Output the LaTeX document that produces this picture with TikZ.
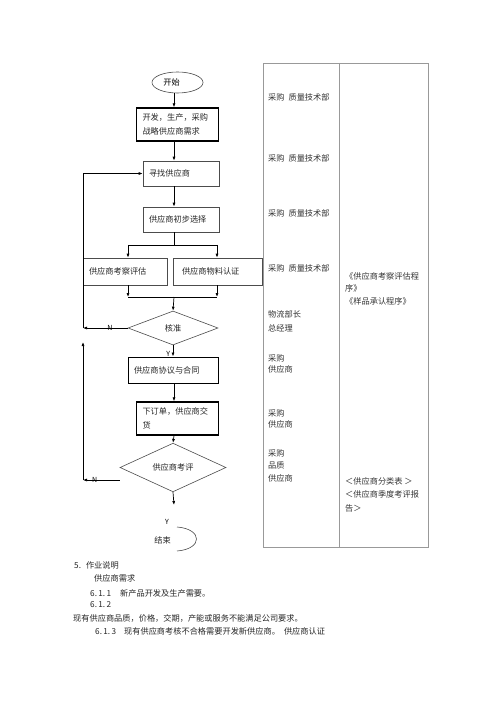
\documentclass[tikz,border=0pt]{standalone}
\usepackage{fontspec}
\setmainfont{Noto Sans CJK SC}
\usetikzlibrary{positioning, arrows.meta, shapes.geometric}
\newcommand{\flowfont}{\fontsize{8.2pt}{14.5pt}\selectfont}
\tikzset{
    stepbox/.style={draw=black!70, line width=0.6pt, rectangle, inner xsep=6pt, inner ysep=2pt, align=left, font=\flowfont, text=black!85},
    boldbox/.style={stepbox, draw=black, line width=1.3pt},
    choice/.style={diamond, draw=black!70, line width=0.6pt, inner sep=0pt, font=\flowfont, text=black!85},
    flow/.style={line width=0.7pt, black},
    yn/.style={font=\fontsize{7pt}{8pt}\selectfont, inner sep=1pt},
    cell/.style={anchor=north west, align=left, inner sep=0pt, font=\flowfont, text=black!80},
    note/.style={anchor=west, inner sep=0pt, font=\flowfont, text=black!85},
    grid/.style={draw=black!40, line width=0.6pt}
}

\begin{document}
\begin{tikzpicture}[x=1pt, y=-1pt, >={Latex[length=4pt,width=3pt]}]
    \useasboundingbox (0,0) rectangle (500,708);
    \coordinate (axis) at (174,0);
    \node[ellipse, draw=black!70, line width=0.6pt, minimum width=51pt, minimum height=21pt, inner sep=0pt, font=\flowfont] (start) at (177.5,82.5) {开始\hspace*{12pt}};
    \node[boldbox, text width=70pt, minimum height=33pt] (need) at (177.5,124.5) {开发，生产，采购\\战略供应商需求};
    \node[stepbox, text width=64pt, minimum height=25pt] (find) at (181,173.5) {寻找供应商};
    \node[stepbox, text width=64pt, minimum height=25pt] (select) at (181,219.5) {供应商初步选择};
    \node[stepbox, text width=72pt, minimum height=27pt] (assess) at (125,271.5) {供应商考察评估};
    \node[stepbox, text width=77pt, minimum height=27pt, inner xsep=6pt] (certify) at (217.5,271.5) {\hspace*{3pt}供应商物料认证};
    \node[choice, minimum width=90pt, minimum height=34pt] (approve) at (173,328) {核准};
    \node[boldbox, line width=1pt, text width=78pt, minimum height=26pt] (deal) at (173,370) {供应商协议与合同};
    \node[boldbox, text width=70pt, minimum height=33pt] (deliver) at (177.5,418.5) {下订单，供应商交\\货};
    \node[choice, minimum width=106pt, minimum height=39pt] (review) at (173,467.5) {供应商考评};
    \node[yn] (yend) at (167,522) {Y};
    \node[inner sep=0pt, font=\flowfont, text=black!85] (finish) at (162.5,540) {结束};
    \coordinate (split) at (174,245);
    \coordinate (sleft) at (128,245);
    \coordinate (sright) at (217,245);
    \coordinate (mleft) at (128,297);
    \coordinate (mright) at (217,297);
    \coordinate (merge) at (174,297);
    \coordinate (loopone) at (83,328);
    \coordinate (looptwo) at (83,480);
    \coordinate (looptop) at (83,342);
    \coordinate (endtip) at (174,505);

    \draw[flow,->] (start.south -| axis) -- (need.north -| axis);
    \draw[flow,->] (need.south -| axis) -- (find.north -| axis);
    \draw[flow,->] (find.south -| axis) -- (select.north -| axis);
    \draw[flow] (select.south -| axis) -- (split);
    \draw[flow] (sleft) -- (sright);
    \draw[flow,->] (sleft) -- (assess.north -| sleft);
    \draw[flow,->] (sright) -- (certify.north -| sright);
    \draw[flow,->] (assess.south -| mleft) -- (mleft);
    \draw[flow,->] (certify.south -| mright) -- (mright);
    \draw[flow] (mleft) -- (mright);
    \draw[flow,->] (merge) -- (approve.north);
    \draw[flow,->] (approve.west) -- node[yn, pos=0.4]{N} (loopone);
    \draw[flow,->] (loopone) |- (find.west);
    \draw[flow,->] (approve.south) -- node[yn, pos=0.75, left=1.5pt]{Y} (deal.north -| approve);
    \draw[flow,->] (deal.south -| axis) -- (deliver.north -| axis);
    \draw[flow,->] (deliver.south -| axis) -- (review.north);
    \draw[flow,->] ([yshift=-12.5pt]review.west) -- node[yn, pos=0.68]{N} (looptwo);
    \draw[flow,->] (looptwo) -- (looptop);
    \draw[flow,->] (review.south) -- (endtip);
    \draw[black!70, line width=0.6pt] (177,527) .. controls (203,529) and (203,549) .. (177,551);

    \draw[grid] (263,63) rectangle (428,547);
    \draw[grid] (339,63) -- (339,547);
    \node[cell] (c1) at (268,93) {采购\hspace{4pt}质量技术部};
    \node[cell] (c2) at (268,154) {采购\hspace{4pt}质量技术部};
    \node[cell] (c3) at (268,209) {采购\hspace{4pt}质量技术部};
    \node[cell] (c4) at (268,264) {采购\hspace{4pt}质量技术部};
    \node[cell, font=\fontsize{8.2pt}{14pt}\selectfont] (c5) at (268,310) {物流部长\\总经理};
    \node[cell, font=\fontsize{8.2pt}{11.5pt}\selectfont] (c6) at (268,354) {采购\\供应商};
    \node[cell, font=\fontsize{8.2pt}{11.5pt}\selectfont] (c7) at (268,409) {采购\\供应商};
    \node[cell, font=\fontsize{8.2pt}{12.5pt}\selectfont] (c8) at (268,449) {采购\\品质\\供应商};
    \node[cell, font=\fontsize{8.2pt}{12.5pt}\selectfont] (p1) at (345,272) {《供应商考察评估程\\序》\\《样品承认程序》};
    \node[cell, font=\fontsize{8.2pt}{13.5pt}\selectfont] (p2) at (345,477) {＜供应商分类表\ ＞\\＜供应商季度考评报\\告＞};

    \node[note] (h5) at (74,565) {5.\hspace{5pt}作业说明};
    \node[note] (h51) at (94,578) {供应商需求};
    \node[note] (h611) at (90,593) {\makebox[30pt][l]{6.\,1.\,1}新产品开发及生产需要。};
    \node[note] (h612) at (90,605) {6.\,1.\,2};
    \node[note] (h612b) at (73,618) {现有供应商品质，价格，交期，产能或服务不能满足公司要求。};
    \node[note] (h613) at (95,631) {\makebox[29pt][l]{6.\,1.\,3}现有供应商考核不合格需要开发新供应商。\hspace{4pt}供应商认证};
\end{tikzpicture}
\end{document}
